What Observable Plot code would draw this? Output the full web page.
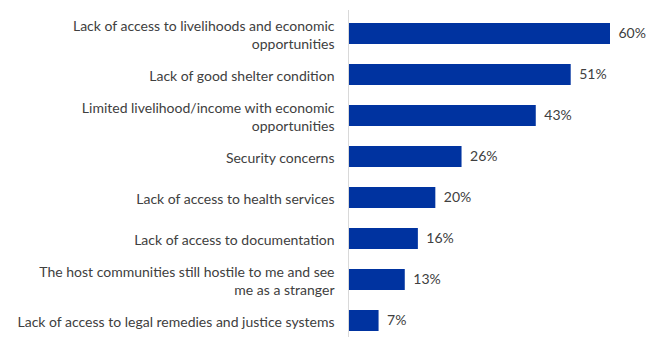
<!DOCTYPE html>
<html>
<head>
<meta charset="utf-8">
<script src="https://cdn.jsdelivr.net/npm/d3@7"></script>
<script src="https://cdn.jsdelivr.net/npm/@observablehq/plot@0.6"></script>
<style>
  html, body { margin: 0; padding: 0; background: #fff; }
  #chart svg { display: block; }
</style>
</head>
<body>
<div id="chart"></div>
<script>
const categories = [
  "Lack of access to livelihoods and economic\nopportunities",
  "Lack of good shelter condition",
  "Limited livelihood/income with economic\nopportunities",
  "Security concerns",
  "Lack of access to health services",
  "Lack of access to documentation",
  "The host communities still hostile to me and see\nme as a stranger",
  "Lack of access to legal remedies and justice systems"
];
const values = [60, 51, 43, 26, 20, 16, 13, 7];
const valueLabels = ["60%", "51%", "43%", "26%", "20%", "16%", "13%", "7%"];

const data = categories.map((c, i) => ({category: c, value: values[i], label: valueLabels[i]}));

const font = "Lato, 'Open Sans', sans-serif";
const textColor = "#404040";

const chart = Plot.plot({
  width: 646,
  height: 337,
  marginLeft: 348,
  marginRight: 36,
  marginTop: 10,
  marginBottom: 0,
  style: {fontFamily: font, background: "#fff"},
  x: {domain: [0, 60], range: [348, 610], axis: null},
  y: {domain: categories, range: [-0.9, 354.9], padding: 0.5, axis: null},
  marks: [
    Plot.barX(data, {x: "value", y: "category", fill: "#0033a0", insetLeft: 1}),
    Plot.ruleX([0], {stroke: "#d9d9d9", strokeWidth: 1}),
    Plot.text(data, {x: 0, y: "category", text: "category", textAnchor: "end", dx: -14,
      fontSize: 14, fill: textColor, lineHeight: 1.3}),
    Plot.text(data, {x: "value", y: "category", text: "label", textAnchor: "start", dx: 8,
      fontSize: 14, fill: textColor})
  ]
});
document.getElementById("chart").appendChild(chart);
</script>
</body>
</html>
